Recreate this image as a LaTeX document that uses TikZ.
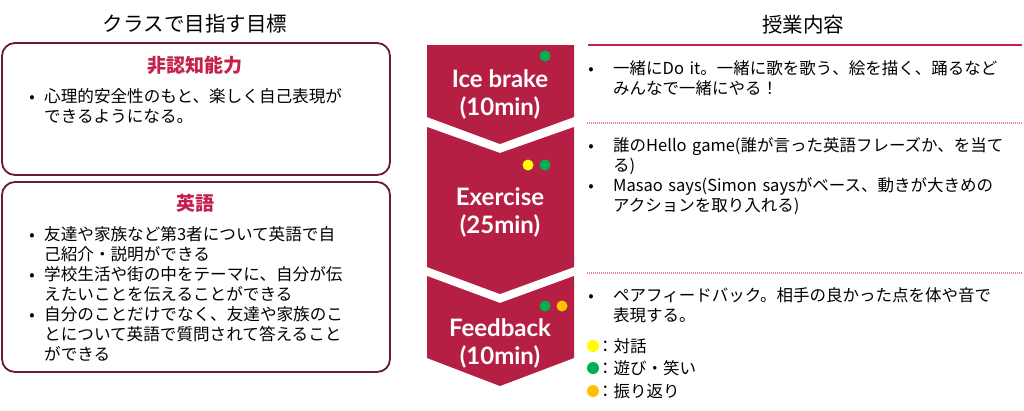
\documentclass[tikz,border=0pt]{standalone}
\usepackage{fontspec}
\setmainfont{Noto Sans CJK JP}
\newfontfamily\gill{Lato}

\definecolor{wine}{HTML}{B51F43}
\definecolor{maroon}{HTML}{6A1B2D}
\definecolor{rose}{HTML}{C4204D}
\definecolor{pinkline}{HTML}{E27E98}
\definecolor{dotyellow}{HTML}{FFFF00}
\definecolor{dotgreen}{HTML}{00B050}
\definecolor{dotorange}{HTML}{FFC000}

\tikzset{
  goalbox/.style={draw=maroon, line width=1.8pt, rounded corners=13pt},
  stagetext/.style={text=white, align=center, inner sep=0pt, font=\gill\bfseries\fontsize{24}{28}\selectfont},
  headtext/.style={inner sep=0pt, font=\fontsize{20.5}{24}\selectfont},
  goalhead/.style={inner sep=0pt, text=rose, font=\bfseries\fontsize{19}{22}\selectfont},
  bodytext/.style={anchor=base west, inner sep=0pt, text width=420pt, align=left, font=\fontsize{#1}{20}\selectfont},
  bodytext/.default=16.6,
  bulletmark/.style={anchor=base, inner sep=0pt, font=\fontsize{16}{20}\selectfont},
  sepline/.style={pinkline, line width=1.3pt, dash pattern=on 1pt off 1pt},
}

\begin{document}
\begin{tikzpicture}[x=1pt, y=-1pt]
  \useasboundingbox (0,0) rectangle (1024,410);

  \node[headtext] (tl) at (195,24) {クラスで目指す目標};
  \node[headtext] (tr) at (803,25) {授業内容};

  \draw[goalbox] (2,43) rectangle (390,175);
  \draw[goalbox] (2,182) rectangle (390,372);

  \node[goalhead] (g1) at (195,65) {非認知能力};
  \node[bulletmark] (b1) at (32,102.5) {•};
  \node[bodytext] (t1) at (44,102.5) {心理的安全性のもと、楽しく自己表現が\\できるようになる。};

  \node[goalhead] (g2) at (195,203.5) {英語};
  \node[bulletmark] (b2) at (32,240) {•};
  \node[bodytext] (t2) at (44,240) {友達や家族など第3者について英語で自\\己紹介・説明ができる};
  \node[bulletmark] (b3) at (32,280) {•};
  \node[bodytext] (t3) at (44,280) {学校生活や街の中をテーマに、自分が伝\\えたいことを伝えることができる};
  \node[bulletmark] (b4) at (32,320) {•};
  \node[bodytext] (t4) at (44,320) {自分のことだけでなく、友達や家族のこ\\とについて英語で質問されて答えること\\ができる};

  \coordinate (l1) at (427,45);
  \coordinate (r1) at (574,45);
  \fill[wine] (l1) -- (r1) -- (574,117) -- (500,144) -- (427,117) -- cycle;
  \fill[wine] (427,127) -- (500,153) -- (574,127) -- (574,267) -- (500,294) -- (427,267) -- cycle;
  \fill[wine] (427,276) -- (500,303) -- (574,276) -- (574,358) -- (500,386) -- (427,358) -- cycle;

  \node[stagetext] (s1) at (500,94) {Ice brake\\(10min)};
  \node[stagetext] (s2) at (500,212) {Exercise\\(25min)};
  \node[stagetext] (s3) at (500,343) {Feedback\\(10min)};

  \fill[dotgreen] (545,56) circle (5.5pt);
  \fill[dotyellow] (528,165) circle (5.5pt);
  \fill[dotgreen] (545,165) circle (5.5pt);
  \fill[dotgreen] (545,306) circle (5.5pt);
  \fill[dotorange] (562,306) circle (5.5pt);

  \coordinate (e1) at (588,45);
  \coordinate (e2) at (1022,45);
  \coordinate (d1) at (587,123);
  \coordinate (d2) at (1022,123);
  \coordinate (f1) at (587,273);
  \coordinate (f2) at (1022,273);
  \draw[rose, line width=2pt] (e1) -- (e2);
  \draw[sepline] (d1) -- (d2);
  \draw[sepline] (f1) -- (f2);

  \node[bulletmark] (c1) at (591,74.5) {•};
  \node[bodytext=16.5] (u1) at (613,74.5) {一緒にDo it。一緒に歌を歌う、絵を描く、踊るなど\\みんなで一緒にやる！};
  \node[bulletmark] (c2) at (591,151.5) {•};
  \node[bodytext=16.5] (u2) at (613,151.5) {\baselineskip=18.5pt 誰のHello game(誰が言った英語フレーズか、を当て\\る)};
  \node[bulletmark] (c3) at (591,191.5) {•};
  \node[bodytext=16.5] (u3) at (613,191.5) {\baselineskip=18.5pt Masao says(Simon saysがベース、動きが大きめの\\アクションを取り入れる)};
  \node[bulletmark] (c4) at (591,301.5) {•};
  \node[bodytext=16.5] (u4) at (613,301.5) {ペアフィードバック。相手の良かった点を体や音で\\表現する。};

  \fill[dotyellow] (593,346) circle (6pt);
  \fill[dotgreen] (593,368) circle (6pt);
  \fill[dotorange] (593,391) circle (6pt);
  \node[bodytext=16.5] (k1) at (597,352) {：対話};
  \node[bodytext=16.5] (k2) at (597,374) {：遊び・笑い};
  \node[bodytext=16.5] (k3) at (597,397) {：振り返り};
\end{tikzpicture}
\end{document}
